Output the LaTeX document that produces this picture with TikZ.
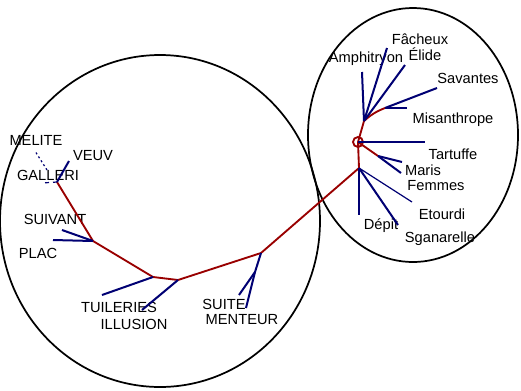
\documentclass[tikz,border=0pt]{standalone}
\usepackage{fontspec}
\setmainfont{Liberation Sans}
\usetikzlibrary{positioning}

\begin{document}
\begin{tikzpicture}[x=0.75pt, y=-0.75pt, font=\fontsize{11}{13}\selectfont,
  ring/.style={draw=black, line width=1.3pt},
  core/.style={draw=red!60!black, line width=1.4pt},
  leaf/.style={draw=blue!45!black, line width=1.5pt},
  lab/.style={inner sep=0pt, text=black}]
% pixel grid of the 521x390 picture, y grows downwards
\useasboundingbox (0,0) rectangle (521,390);
\draw[ring] (160,221) ellipse [x radius=160, y radius=166];
\draw[ring] (413,135) ellipse [x radius=105, y radius=127];
% inner junctions of the tree
\foreach \n/\x/\y in {hub/358/142, rA/359/168, rB/364/121, rC/385/108, rD/378/156,
  lJ3/261/253, lS/255/272, lJ4/178/280, lJ5/153/277, lJ2/93/241, lJ1/57/182}
  \coordinate (\n) at (\x,\y);
% labels
\foreach \n/\x/\y/\t in {melite/36/140/MELITE, veuv/93/156/VEUV, galleri/48/175/GALLERI,
  suivant/55/219/SUIVANT, plac/38/253/PLAC, tuileries/119/307/TUILERIES, illusion/134/324/ILLUSION,
  suite/224/304/SUITE, menteur/242/320/MENTEUR, amphi/366/59/Amphitryon, facheux/420/39/Fâcheux,
  elide/425/54/Élide, savantes/468/78/Savantes, misan/453/120/Misanthrope, tartuffe/453/154/Tartuffe,
  maris/423/170/Maris, femmes/436/186/Femmes, etourdi/442/214/Etourdi, depit/381/226/Dépit,
  sganarelle/440/239/Sganarelle}
  \node[lab] (t\n) at (\x,\y) {\t};
% red trunk
\draw[core] (hub) circle [radius=5];
\draw[core] (hub) -- (rA) -- (lJ3) -- (lJ4) -- (lJ5) -- (lJ2) -- (lJ1);
\draw[core] (hub) -- (rB) to[bend left=10] (rC);
\draw[core] (hub) -- (rD);
% blue leaves
\foreach \j/\e/\x/\y in {rB/amphi/362/72, rB/facheux/387/48, rB/elide/405/65, rC/savantes/437/88,
  rC/misan/407/108, hub/tartuffe/425/142, rD/maris/402/162, rD/femmes/401/173, rA/sganarelle/398/225,
  rA/depit/359/215, lS/suite/239/295, lS/menteur/246/308, lJ4/illusion/142/310, lJ5/tuileries/102/295,
  lJ2/suivant/62/230, lJ2/plac/53/240, lJ1/veuv/69/161}
  { \coordinate (e\e) at (\x,\y); \draw[leaf] (\j) -- (e\e); }
\coordinate (eetourdi) at (412,202);
\draw[leaf, line width=0.9pt] (rA) -- (eetourdi);
\draw[leaf] (lJ3) -- (lS);
\coordinate (egalleri) at (42,183);
\draw[leaf, dashed, line width=0.9pt] (lJ1) -- (egalleri);
\coordinate (emelite) at (35,151);
\draw[leaf, dotted, line width=0.9pt] (47,170) -- (emelite);
\end{tikzpicture}
\end{document}
